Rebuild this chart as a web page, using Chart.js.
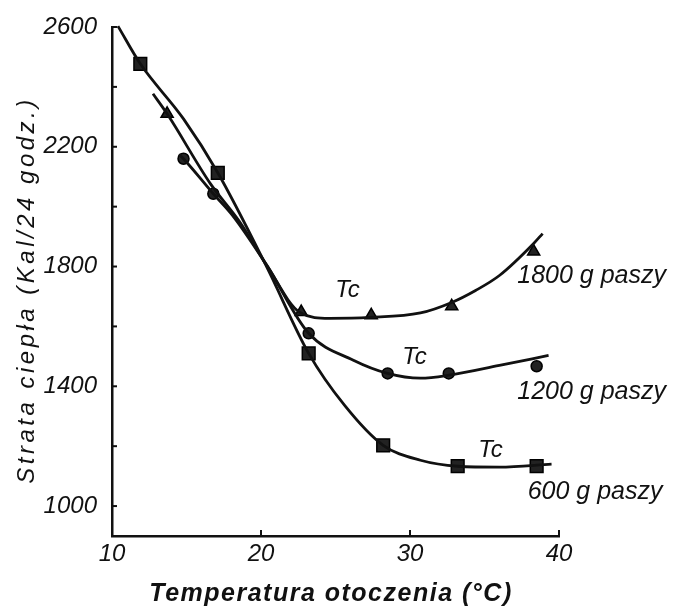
<!DOCTYPE html>
<html>
<head>
<meta charset="utf-8">
<script src="https://cdn.jsdelivr.net/npm/chart.js"></script>
<style>
  body { margin: 0; background: #fff; }
  canvas { display: block; }
</style>
</head>
<body>
<canvas id="chart" width="689" height="610"></canvas>
<script>
// axis ticks
const xTicks = [10, 20, 30, 40];
const yTicks = [1000, 1200, 1400, 1600, 1800, 2000, 2200, 2400, 2600];
const yLabelled = [1000, 1400, 1800, 2200, 2600];
const xTitle = 'Temperatura otoczenia (°C)';
const yTitle = 'Strata ciepła (Kal/24 godz.)';

// smoothed curves
const curve600X = [10.4, 11.9, 14.8, 17.1, 20.4, 23.2, 25.6, 28.2, 30.7, 33.2, 36.0, 39.5];
const curve600Y = [2603, 2477, 2293, 2113, 1797, 1510, 1337, 1203, 1153, 1133, 1130, 1140];
const curve1200X = [14.5, 14.8, 16.8, 18.1, 20.4, 23.2, 26.2, 28.5, 30.7, 32.6, 36.0, 39.3];
const curve1200Y = [2175, 2160, 2043, 1970, 1803, 1577, 1487, 1443, 1427, 1437, 1470, 1503];
const curve1800X = [12.75, 13.7, 16.6, 18.6, 20.4, 22.6, 24.6, 27.3, 30.7, 32.8, 34.4, 36.0, 38.3, 38.9];
const curve1800Y = [2377, 2310, 2077, 1947, 1803, 1647, 1627, 1630, 1645, 1680, 1720, 1770, 1877, 1910];

// measured points
const pts600X = [11.9, 17.1, 23.2, 28.2, 33.2, 38.5];
const pts600Y = [2477, 2113, 1510, 1203, 1133, 1133];
const pts1200X = [14.8, 16.8, 23.2, 28.5, 32.6, 38.5];
const pts1200Y = [2160, 2043, 1577, 1443, 1443, 1467];
const pts1800X = [13.7, 22.7, 27.4, 32.8, 38.3];
const pts1800Y = [2310, 1648, 1637, 1667, 1850];

// text on the plot
const noteTexts = ['Tc', 'Tc', 'Tc', '1800 g paszy', '1200 g paszy', '600 g paszy'];
const noteX = [25.8, 30.3, 35.4, 37.2, 37.2, 37.9];
const noteY = [1720, 1497, 1187, 1767, 1380, 1047];

const ink = '#111';
const face = '"Liberation Sans", sans-serif';

function pairs(xs, ys) {
    return xs.map((x, i) => ({ x: x, y: ys[i] }));
}

function curve(xs, ys) {
    return {
        type: 'line',
        data: pairs(xs, ys),
        borderColor: ink,
        borderWidth: 2.8,
        pointRadius: 0,
        cubicInterpolationMode: 'monotone',
        clip: false
    };
}

function marks(xs, ys, style, r) {
    return {
        type: 'scatter',
        data: pairs(xs, ys),
        pointStyle: style,
        pointRadius: r,
        backgroundColor: '#222',
        borderColor: '#000',
        borderWidth: 1.5,
        clip: false
    };
}

// inward tick marks, axis titles and the labels on the plot
const extras = {
    id: 'extras',
    afterDraw(chart) {
        const ctx = chart.ctx;
        const xs = chart.scales.x, ys = chart.scales.y;
        const area = chart.chartArea;
        ctx.save();
        ctx.strokeStyle = ink;
        ctx.lineWidth = 2;
        yTicks.forEach(v => {
            const py = ys.getPixelForValue(v);
            ctx.beginPath();
            ctx.moveTo(area.left, py);
            ctx.lineTo(area.left + 5, py);
            ctx.stroke();
        });
        xTicks.slice(1).forEach(v => {
            const px = xs.getPixelForValue(v);
            ctx.beginPath();
            ctx.moveTo(px, area.bottom);
            ctx.lineTo(px, area.bottom - 6);
            ctx.stroke();
        });

        ctx.fillStyle = ink;
        ctx.textBaseline = 'middle';
        noteTexts.forEach((t, i) => {
            const isTc = t === 'Tc';
            ctx.font = 'italic ' + (isTc ? 24 : 25) + 'px ' + face;
            ctx.textAlign = isTc ? 'center' : 'left';
            ctx.fillText(t, xs.getPixelForValue(noteX[i]), ys.getPixelForValue(noteY[i]));
        });

        ctx.textAlign = 'center';
        ctx.font = 'italic bold 25px ' + face;
        ctx.letterSpacing = '1.5px';
        ctx.fillText(xTitle, 331, 594);

        ctx.translate(27, 290);
        ctx.rotate(-Math.PI / 2);
        ctx.font = 'italic 24px ' + face;
        ctx.letterSpacing = '3.5px';
        ctx.fillText(yTitle, 0, 0);
        ctx.restore();
    }
};

const tickFont = { family: face, size: 24, style: 'italic' };

new Chart(document.getElementById('chart'), {
    data: {
        datasets: [
            curve(curve600X, curve600Y),
            curve(curve1200X, curve1200Y),
            curve(curve1800X, curve1800Y),
            marks(pts600X, pts600Y, 'rect', 9),
            marks(pts1200X, pts1200Y, 'circle', 5.5),
            marks(pts1800X, pts1800Y, 'triangle', 7)
        ]
    },
    options: {
        responsive: false,
        animation: false,
        layout: { padding: { top: 27, right: 130, left: 0, bottom: 0 } },
        plugins: { legend: { display: false }, tooltip: { enabled: false } },
        scales: {
            x: {
                type: 'linear',
                min: 10,
                max: 40,
                afterBuildTicks: s => { s.ticks = xTicks.map(v => ({ value: v })); },
                afterFit: s => { s.height = 74; },
                grid: { display: false },
                border: { display: true, color: ink, width: 2.5 },
                ticks: { color: ink, font: tickFont, padding: -4, maxRotation: 0 }
            },
            y: {
                type: 'linear',
                min: 900,
                max: 2600,
                afterBuildTicks: s => { s.ticks = yTicks.map(v => ({ value: v })); },
                afterFit: s => { s.width = 112; },
                grid: { display: false },
                border: { display: true, color: ink, width: 2.5 },
                ticks: {
                    color: ink,
                    font: tickFont,
                    padding: 7,
                    callback: v => yLabelled.includes(v) ? String(v) : ''
                }
            }
        }
    },
    plugins: [extras]
});
</script>
</body>
</html>
